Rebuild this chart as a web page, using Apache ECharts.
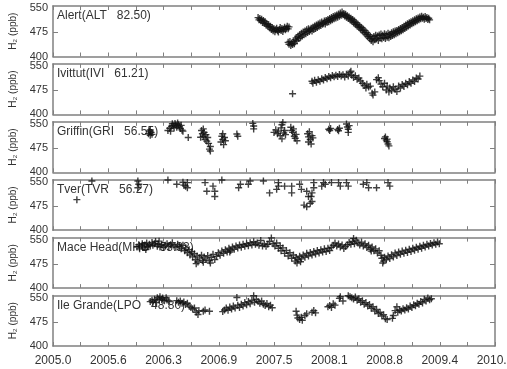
<!DOCTYPE html>
<html><head><meta charset="utf-8">
<script src="https://cdn.jsdelivr.net/npm/echarts@6/dist/echarts.min.js"></script>
<style>html,body{margin:0;padding:0;background:#fff}#c{width:507px;height:369px}</style>
</head><body><div id="c"></div>
<script>
const stationLabels = ['Alert(ALT   82.50)','Ivittut(IVI   61.21)','Griffin(GRI   56.55)','Tver(TVR   56.27)','Mace Head(MHD   53.33)','Ile Grande(LPO   48.80)'];
const yTickValues = [400, 475, 550];
const yMid = [475];
const yTitle = 'H\u2082 (ppb)';

const alt = [[2007.32,521],[2007.33,514],[2007.34,518],[2007.35,511],[2007.36,516],[2007.37,506],[2007.38,512],[2007.39,503],[2007.40,508],[2007.41,498],[2007.42,502],[2007.43,494],[2007.44,499],[2007.45,489],[2007.46,494],[2007.47,484],[2007.48,490],[2007.49,480],[2007.50,486],[2007.51,477],[2007.52,483],[2007.53,488],[2007.54,480],[2007.55,476],[2007.56,484],[2007.57,490],[2007.58,481],[2007.59,487],[2007.60,478],[2007.61,485],[2007.62,491],[2007.63,483],[2007.64,488],[2007.65,494],[2007.66,486],[2007.67,492],
[2007.66,444],[2007.67,438],[2007.68,447],[2007.69,434],[2007.70,441],[2007.71,437],[2007.72,446],[2007.73,440],[2007.74,452],[2007.75,458],[2007.76,449],[2007.77,463],[2007.78,456],[2007.79,468],[2007.80,460],[2007.81,472],[2007.82,464],[2007.83,476],[2007.84,468],[2007.85,479],[2007.86,471],[2007.87,483],[2007.88,475],[2007.89,486],[2007.90,478],[2007.91,482],[2007.92,488],[2007.93,479],[2007.94,491],[2007.95,484],[2007.96,495],[2007.97,487],[2007.98,498],[2007.99,490],[2008.00,501],[2008.01,494],[2008.02,504],[2008.03,496],[2008.04,507],[2008.05,500],[2008.06,503],[2008.07,510],[2008.08,501],[2008.09,512],[2008.10,506],[2008.11,515],[2008.12,508],[2008.13,518],[2008.14,511],[2008.15,521],[2008.16,514],[2008.17,524],[2008.18,517],[2008.19,527],[2008.20,520],[2008.21,529],[2008.22,522],[2008.23,532],[2008.24,525],[2008.25,535],[2008.26,528],[2008.27,538],[2008.28,530],[2008.29,534],[2008.30,526],[2008.31,531],[2008.32,522],[2008.33,527],[2008.34,518],[2008.35,523],[2008.36,514],[2008.37,519],[2008.38,510],[2008.39,515],[2008.40,505],[2008.41,510],[2008.42,500],[2008.43,505],[2008.44,495],[2008.45,500],[2008.46,490],[2008.47,495],[2008.48,485],[2008.49,490],[2008.50,480],[2008.51,485],[2008.52,474],[2008.53,480],[2008.54,468],[2008.55,474],[2008.56,462],[2008.57,468],[2008.58,456],[2008.59,462],[2008.60,450],[2008.61,457],[2008.62,446],[2008.63,462],[2008.64,452],[2008.65,466],[2008.66,455],[2008.67,464],[2008.68,450],[2008.69,467],[2008.70,457],[2008.71,470],[2008.72,455],[2008.73,466],[2008.74,459],[2008.75,471],[2008.76,456],[2008.77,468],[2008.78,460],[2008.79,472],[2008.80,458],[2008.81,469],[2008.82,462],[2008.83,474],[2008.84,465],[2008.85,477],[2008.86,468],[2008.87,479],[2008.88,471],[2008.89,481],[2008.90,474],[2008.91,484],[2008.92,477],[2008.93,487],[2008.94,480],[2008.95,490],[2008.96,483],[2008.97,494],[2008.98,487],[2008.99,498],[2009.00,491],[2009.01,502],[2009.02,495],[2009.03,505],[2009.04,498],[2009.05,508],[2009.06,502],[2009.07,511],[2009.08,505],[2009.09,514],[2009.10,508],[2009.11,517],[2009.12,511],[2009.13,520],[2009.14,514],[2009.15,523],[2009.16,517],[2009.17,525],[2009.18,519],[2009.19,522],[2009.20,516],[2009.21,524],[2009.22,518],[2009.23,521],[2009.24,515],[2009.25,519],[2009.26,514]];

const ivi = [[2007.71,464],[2007.93,503],[2007.94,497],[2007.96,506],[2007.98,500],[2008.00,508],[2008.02,503],[2008.04,511],[2008.06,507],[2008.08,515],[2008.10,511],[2008.12,518],[2008.14,514],[2008.16,521],[2008.18,517],[2008.20,522],[2008.22,518],[2008.24,524],[2008.26,519],[2008.28,523],[2008.30,516],[2008.32,525],[2008.34,519],[2008.36,530],[2008.37,534],[2008.38,522],[2008.40,515],[2008.42,520],[2008.44,509],[2008.46,513],[2008.48,504],[2008.50,497],[2008.52,490],[2008.54,482],[2008.55,494],[2008.57,485],[2008.59,488],[2008.61,466],[2008.62,460],[2008.64,470],[2008.66,508],[2008.68,514],[2008.69,505],[2008.71,494],[2008.73,486],[2008.75,497],[2008.77,476],[2008.78,488],[2008.80,470],[2008.81,482],[2008.83,474],[2008.85,486],[2008.87,478],[2008.89,471],[2008.91,488],[2008.93,482],[2008.95,493],[2008.97,487],[2008.99,497],[2009.01,492],[2009.03,502],[2009.05,497],[2009.07,507],[2009.09,502],[2009.11,513],[2009.13,510],[2009.15,519]];

const gri = [[2006.08,520],[2006.09,528],[2006.10,515],[2006.10,532],[2006.11,524],[2006.12,518],
[2006.30,530],[2006.32,537],[2006.33,528],[2006.34,543],[2006.35,551],[2006.36,545],[2006.37,538],[2006.38,552],[2006.39,547],[2006.40,540],[2006.41,553],[2006.42,548],[2006.43,542],[2006.44,536],[2006.45,546],[2006.46,531],[2006.47,528],[2006.53,508],
[2006.67,509],[2006.68,530],[2006.69,520],[2006.70,535],[2006.70,512],[2006.71,524],[2006.72,502],[2006.73,517],[2006.74,497],[2006.75,508],[2006.76,490],[2006.77,472],[2006.78,466],[2006.78,480],
[2006.90,494],[2006.91,512],[2006.92,502],[2006.92,520],[2006.93,486],[2006.94,508],[2006.95,498],
[2007.08,519],[2007.09,512],
[2007.26,552],[2007.27,544],[2007.27,535],
[2007.50,524],[2007.52,532],[2007.54,520],[2007.55,528],[2007.57,514],[2007.58,538],[2007.59,548],[2007.59,504],[2007.60,555],[2007.61,522],[2007.62,530],[2007.63,517],
[2007.69,540],[2007.70,530],[2007.71,524],[2007.72,535],[2007.73,512],[2007.74,506],[2007.75,518],[2007.76,498],
[2007.88,520],[2007.89,510],[2007.89,494],[2007.90,526],[2007.91,502],[2007.92,488],[2007.93,514],[2007.94,507],
[2008.12,534],[2008.13,530],[2008.14,536],[2008.22,533],[2008.23,529],[2008.24,537],[2008.32,550],[2008.33,541],[2008.34,534],[2008.34,524],[2008.35,545],
[2008.75,505],[2008.76,510],[2008.77,500],[2008.78,495],[2008.79,488],[2008.80,482],[2008.78,503]];

const tvr = [[2005.27,495],[2005.44,553],[2005.96,553],[2005.97,543],[2005.96,532],
[2006.30,556],[2006.40,543],[2006.47,549],[2006.48,540],[2006.50,537],[2006.52,548],[2006.52,532],
[2006.72,548],[2006.74,521],[2006.81,537],[2006.83,521],[2006.83,505],[2006.91,556],
[2007.10,532],[2007.12,543],[2007.21,543],[2007.23,553],[2007.38,553],
[2007.45,516],[2007.53,527],[2007.55,548],[2007.55,537],[2007.62,537],[2007.70,537],[2007.70,516],[2007.79,543],[2007.81,527],[2007.84,478],[2007.87,521],[2007.87,473],[2007.89,505],[2007.91,484],[2007.92,505],[2007.93,516],[2007.93,489],[2007.95,532],[2007.95,548],
[2008.04,537],[2008.06,548],[2008.08,543],[2008.15,548],[2008.23,548],[2008.25,537],[2008.32,548],[2008.34,537],
[2008.51,543],[2008.55,548],[2008.57,532],[2008.66,532],[2008.79,548],[2008.81,537]];

const mhd = [[2005.95,528],[2005.97,535],[2005.98,522],[2006.00,531],[2006.01,538],[2006.03,527],[2006.04,534],[2006.05,520],[2006.06,540],[2006.07,529],[2006.09,536],[2006.10,531],[2006.12,542],[2006.13,533],[2006.15,538],[2006.16,545],[2006.18,530],[2006.19,537],[2006.20,546],[2006.21,528],[2006.23,535],[2006.25,526],[2006.27,533],[2006.29,538],[2006.31,529],[2006.33,535],[2006.35,541],[2006.37,531],[2006.39,527],[2006.41,536],[2006.43,530],[2006.45,522],[2006.47,533],[2006.49,516],[2006.50,525],[2006.52,510],[2006.54,519],[2006.55,503],[2006.57,513],[2006.58,497],[2006.60,507],[2006.61,488],[2006.62,476],[2006.63,500],[2006.64,481],[2006.66,494],[2006.68,502],[2006.69,486],[2006.70,480],[2006.71,497],[2006.73,490],[2006.75,501],[2006.77,485],[2006.78,478],[2006.79,496],[2006.81,505],[2006.83,489],[2006.85,499],[2006.87,510],[2006.89,502],[2006.91,515],[2006.93,508],[2006.95,519],[2006.97,512],[2006.99,524],[2007.00,512],[2007.01,517],[2007.03,528],[2007.05,521],[2007.07,531],[2007.09,525],[2007.11,534],[2007.13,527],[2007.15,536],[2007.17,530],[2007.19,538],[2007.21,532],[2007.23,541],[2007.25,534],[2007.27,544],[2007.29,536],[2007.31,540],[2007.33,533],[2007.35,548],[2007.37,531],[2007.39,537],[2007.41,530],[2007.43,536],[2007.45,545],[2007.47,556],[2007.49,538],[2007.51,531],[2007.53,540],[2007.55,524],[2007.57,532],[2007.58,516],[2007.60,525],[2007.62,508],[2007.64,517],[2007.66,500],[2007.68,510],[2007.70,493],[2007.72,503],[2007.74,484],[2007.75,495],[2007.76,478],[2007.77,488],[2007.79,499],[2007.80,482],[2007.81,491],[2007.83,503],[2007.85,496],[2007.87,508],[2007.89,500],[2007.91,511],[2007.93,503],[2007.95,514],[2007.97,506],[2007.99,517],[2008.01,509],[2008.03,519],[2008.05,512],[2008.07,522],[2008.09,514],[2008.11,524],[2008.13,517],[2008.15,527],[2008.17,533],[2008.19,540],[2008.21,531],[2008.23,537],[2008.25,528],[2008.27,534],[2008.29,523],[2008.31,529],[2008.33,535],[2008.35,542],[2008.37,536],[2008.39,545],[2008.40,554],[2008.41,538],[2008.43,549],[2008.45,540],[2008.47,534],[2008.49,543],[2008.51,531],[2008.53,538],[2008.55,526],[2008.57,533],[2008.59,521],[2008.60,515],[2008.61,528],[2008.63,516],[2008.65,522],[2008.67,509],[2008.69,516],[2008.71,502],[2008.72,493],[2008.73,478],[2008.74,484],[2008.75,496],[2008.77,488],[2008.79,500],[2008.81,492],[2008.83,504],[2008.85,497],[2008.87,509],[2008.89,501],[2008.91,512],[2008.93,505],[2008.95,515],[2008.97,508],[2008.99,518],[2009.01,511],[2009.03,521],[2009.05,514],[2009.07,524],[2009.09,518],[2009.11,527],[2009.13,521],[2009.15,530],[2009.17,524],[2009.19,533],[2009.21,528],[2009.23,536],[2009.25,531],[2009.27,539],[2009.29,534],[2009.31,541],[2009.33,536],[2009.35,543],[2009.37,538]];

const lpo = [[2006.10,538],[2006.12,542],[2006.13,536],[2006.15,545],[2006.17,535],[2006.18,550],[2006.20,546],[2006.21,553],[2006.23,544],[2006.24,549],[2006.26,541],[2006.28,550],[2006.29,543],[2006.31,538],
[2006.40,541],[2006.42,536],[2006.44,540],[2006.46,533],[2006.48,537],[2006.50,529],[2006.52,533],[2006.54,524],[2006.56,520],[2006.58,515],[2006.60,518],[2006.62,505],[2006.64,498],[2006.65,510],[2006.70,508],[2006.72,512],[2006.77,508],
[2006.92,507],[2006.94,512],[2006.96,518],[2006.98,511],[2007.00,521],[2007.02,515],[2007.04,524],[2007.06,518],[2007.08,551],[2007.09,527],[2007.11,520],[2007.13,530],[2007.15,524],[2007.17,535],[2007.19,528],[2007.21,538],[2007.23,531],[2007.25,542],[2007.27,556],[2007.28,536],[2007.30,545],[2007.32,538],[2007.34,533],[2007.36,540],[2007.38,530],[2007.40,526],[2007.42,532],[2007.44,522],[2007.46,527],[2007.48,519],
[2007.75,508],[2007.76,496],[2007.77,487],[2007.79,482],[2007.81,489],[2007.82,480],[2007.85,495],[2007.87,500],[2007.93,505],[2007.95,510],[2007.97,503],
[2008.11,522],[2008.13,526],[2008.15,520],[2008.17,531],[2008.19,527],[2008.24,548],[2008.25,553],[2008.28,540],
[2008.34,556],[2008.36,553],[2008.38,550],[2008.40,546],[2008.42,552],[2008.44,542],[2008.46,547],[2008.48,536],[2008.50,541],[2008.52,530],[2008.54,535],[2008.56,524],[2008.58,529],[2008.60,517],[2008.62,522],[2008.64,509],[2008.66,514],[2008.68,501],[2008.70,505],[2008.72,493],[2008.74,497],[2008.76,485],[2008.78,482],
[2008.84,486],[2008.85,495],[2008.87,510],[2008.89,522],[2008.90,505],[2008.92,512],[2008.94,509],[2008.96,516],[2008.98,512],[2009.00,519],[2009.02,515],[2009.04,524],[2009.06,520],[2009.08,528],[2009.10,525],[2009.12,533],[2009.14,530],[2009.16,538],[2009.18,534],[2009.20,545],[2009.22,540],[2009.24,549],[2009.26,544],[2009.28,547]];

const stationData = [alt, ivi, gri, tvr, mhd, lpo];

const FONT = '"Liberation Sans", Arial, sans-serif';
const AX = '#808080';
const TXT = '#333';
const PLUS = 'path://M4,0H6V4H10V6H6V10H4V6H0V4H4Z';
const grids = [], xAxes = [], yAxes = [], series = [], graphics = [];
for (let i = 0; i < 6; i++) {
  const top = 6 + i * 57.9;
  grids.push({left: 53, right: 12, top: top, height: 50.5, containLabel: false, outerBoundsMode: 'none'});
  const xBase = {
    gridIndex: i, type: 'value', min: 2005, max: 2010, interval: 0.625,
    axisLine: {show: true, lineStyle: {color: AX, width: 1.5}},
    axisTick: {show: true, inside: true, length: 4, lineStyle: {color: AX}},
    minorTick: {show: true, splitNumber: 2, length: 4, lineStyle: {color: AX}},
    splitLine: {show: false}
  };
  xAxes.push(Object.assign({}, xBase, {position: 'bottom',
    axisLabel: {show: i === 5, color: TXT, fontSize: 12, fontFamily: FONT, margin: 9,
      showMinLabel: true, showMaxLabel: true, alignMinLabel: 'center', alignMaxLabel: 'center',
      formatter: v => v.toFixed(1)}}));
  xAxes.push(Object.assign({}, xBase, {position: 'top', axisLabel: {show: false}}));
  const yBase = {
    gridIndex: i, type: 'value', min: 400, max: 557,
    axisLine: {show: true, lineStyle: {color: AX, width: 1.5}},
    axisTick: {show: true, inside: true, length: 5, customValues: yMid, lineStyle: {color: AX}},
    splitLine: {show: false}
  };
  yAxes.push(Object.assign({}, yBase, {position: 'left',
    axisLabel: {show: true, customValues: yTickValues, color: TXT, fontSize: 11, fontFamily: FONT, margin: 5},
    name: yTitle, nameLocation: 'middle', nameGap: 29,
    nameTextStyle: {color: TXT, fontSize: 10, fontFamily: FONT}}));
  yAxes.push(Object.assign({}, yBase, {position: 'right', axisLabel: {show: false}}));
  graphics.push({type: 'text', left: 57, top: top + 4, z: 0,
    style: {text: stationLabels[i], fill: TXT, font: '12px ' + FONT}});
  series.push({type: 'scatter', xAxisIndex: 2 * i, yAxisIndex: 2 * i, data: stationData[i],
    symbol: PLUS, symbolSize: 7, z: 5, itemStyle: {color: '#111'}, animation: false});
}
const chart = echarts.init(document.getElementById('c'));
chart.setOption({animation: false, grid: grids, xAxis: xAxes, yAxis: yAxes, series: series, graphic: graphics});
</script>
</body></html>
